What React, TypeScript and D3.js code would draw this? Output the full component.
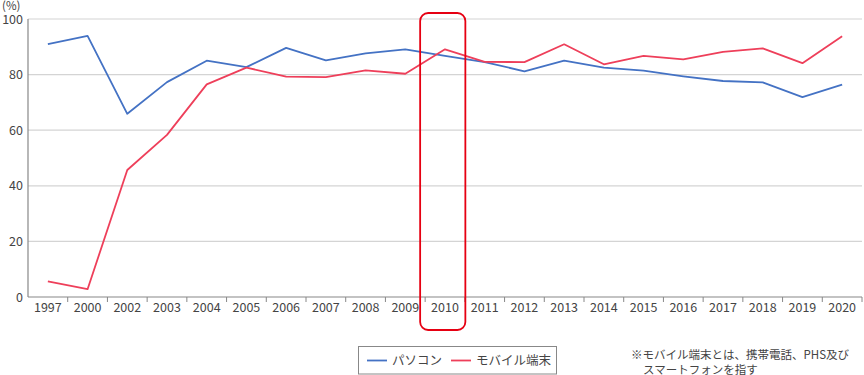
import React, { useEffect, useRef } from 'react';
import * as d3 from 'd3';

const years = ['1997', '2000', '2002', '2003', '2004', '2005', '2006', '2007', '2008', '2009', '2010',
  '2011', '2012', '2013', '2014', '2015', '2016', '2017', '2018', '2019', '2020'];
const pcValues = [91.0, 93.9, 65.9, 77.3, 85.0, 82.7, 89.6, 85.1, 87.6, 89.1, 86.7,
  84.5, 81.2, 85.0, 82.5, 81.4, 79.4, 77.7, 77.2, 71.9, 76.4];
const mobileValues = [5.6, 2.8, 45.7, 58.3, 76.5, 82.5, 79.3, 79.1, 81.5, 80.3, 89.1,
  84.6, 84.5, 90.9, 83.7, 86.7, 85.5, 88.2, 89.4, 84.1, 93.8];
const yTicks = [0, 20, 40, 60, 80, 100];
const seriesNames = ['パソコン', 'モバイル端末'];
const seriesColors = ['#4472c4', '#ee3f5a'];
const highlightYear = '2010';

const FONT = '"Noto Sans CJK JP", "Noto Sans", sans-serif';

const App: React.FC = () => {
  const svgRef = useRef<SVGSVGElement>(null);

  useEffect(() => {
    if (!svgRef.current) return;
    const width = 864;
    const height = 375;
    const svg = d3.select(svgRef.current)
      .attr('width', width)
      .attr('height', height);
    svg.selectAll('*').remove();

    const left = 28, right = 862, top = 19, bottom = 297;

    const x = d3.scaleBand<string>().domain(years).range([left, right]);
    const y = d3.scaleLinear().domain([0, 100]).range([bottom, top]);

    // gridlines
    svg.append('g')
      .selectAll('line')
      .data(yTicks.filter(d => d > 0))
      .enter()
      .append('line')
      .attr('x1', left).attr('x2', right)
      .attr('y1', d => y(d)).attr('y2', d => y(d))
      .attr('stroke', '#d4d4d4')
      .attr('stroke-width', 1.2);

    // y tick labels
    svg.append('g')
      .selectAll('text')
      .data(yTicks)
      .enter()
      .append('text')
      .attr('x', left - 5)
      .attr('y', d => y(d) + 4.5)
      .attr('text-anchor', 'end')
      .attr('font-family', FONT)
      .attr('font-size', 12.5)
      .attr('fill', '#444')
      .text(d => d);

    svg.append('text')
      .attr('x', 2).attr('y', 9.5)
      .attr('font-family', FONT)
      .attr('font-size', 11.5)
      .attr('fill', '#444')
      .text('(%)');

    // axes
    svg.append('line')
      .attr('x1', left).attr('x2', left)
      .attr('y1', top).attr('y2', bottom)
      .attr('stroke', '#888').attr('stroke-width', 1.2);
    svg.append('line')
      .attr('x1', left).attr('x2', right)
      .attr('y1', bottom).attr('y2', bottom)
      .attr('stroke', '#888').attr('stroke-width', 1.2);

    svg.append('g')
      .selectAll('line')
      .data(years)
      .enter()
      .append('line')
      .attr('x1', d => (x(d) as number) + x.bandwidth())
      .attr('x2', d => (x(d) as number) + x.bandwidth())
      .attr('y1', bottom).attr('y2', bottom + 5)
      .attr('stroke', '#888').attr('stroke-width', 1);

    svg.append('g')
      .selectAll('text')
      .data(years)
      .enter()
      .append('text')
      .attr('x', d => (x(d) as number) + x.bandwidth() / 2)
      .attr('y', bottom + 15)
      .attr('text-anchor', 'middle')
      .attr('font-family', FONT)
      .attr('font-size', 12.5)
      .attr('fill', '#444')
      .text(d => d);

    // lines
    const line = d3.line<number>()
      .x((_, i) => (x(years[i]) as number) + x.bandwidth() / 2)
      .y(d => y(d));

    [pcValues, mobileValues].forEach((vals, i) => {
      svg.append('path')
        .datum(vals)
        .attr('fill', 'none')
        .attr('stroke', seriesColors[i])
        .attr('stroke-width', 1.8)
        .attr('stroke-linejoin', 'round')
        .attr('d', line);
    });

    // highlight box around 2010
    const hx = x(highlightYear) as number;
    svg.append('rect')
      .attr('x', hx - 5)
      .attr('y', 13)
      .attr('width', x.bandwidth() + 5.5)
      .attr('height', 317)
      .attr('rx', 8)
      .attr('fill', 'none')
      .attr('stroke', '#e60012')
      .attr('stroke-width', 1.8);

    // legend
    const lg = svg.append('g');
    lg.append('rect')
      .attr('x', 358.5).attr('y', 346.5)
      .attr('width', 198).attr('height', 27.5)
      .attr('fill', '#fff')
      .attr('stroke', '#888')
      .attr('stroke-width', 1);
    const legendX = [367, 451];
    seriesNames.forEach((name, i) => {
      lg.append('line')
        .attr('x1', legendX[i]).attr('x2', legendX[i] + 20)
        .attr('y1', 360.5).attr('y2', 360.5)
        .attr('stroke', seriesColors[i])
        .attr('stroke-width', 1.8);
      lg.append('text')
        .attr('x', legendX[i] + 25)
        .attr('y', 365)
        .attr('font-family', FONT)
        .attr('font-size', 12.5)
        .attr('fill', '#444')
        .text(name);
    });

    // note
    svg.append('text')
      .attr('x', 631)
      .attr('y', 358.5)
      .attr('font-family', FONT)
      .attr('font-size', 11.5)
      .attr('fill', '#444')
      .text('※モバイル端末とは、携帯電話、PHS及び');
    svg.append('text')
      .attr('x', 643)
      .attr('y', 373.5)
      .attr('font-family', FONT)
      .attr('font-size', 11.5)
      .attr('fill', '#444')
      .text('スマートフォンを指す');
  }, []);

  return (
    <div style={{ position: 'absolute', left: 0, top: 0, width: 864, height: 375 }}>
      <svg ref={svgRef} style={{ display: 'block' }} />
    </div>
  );
};

export default App;
